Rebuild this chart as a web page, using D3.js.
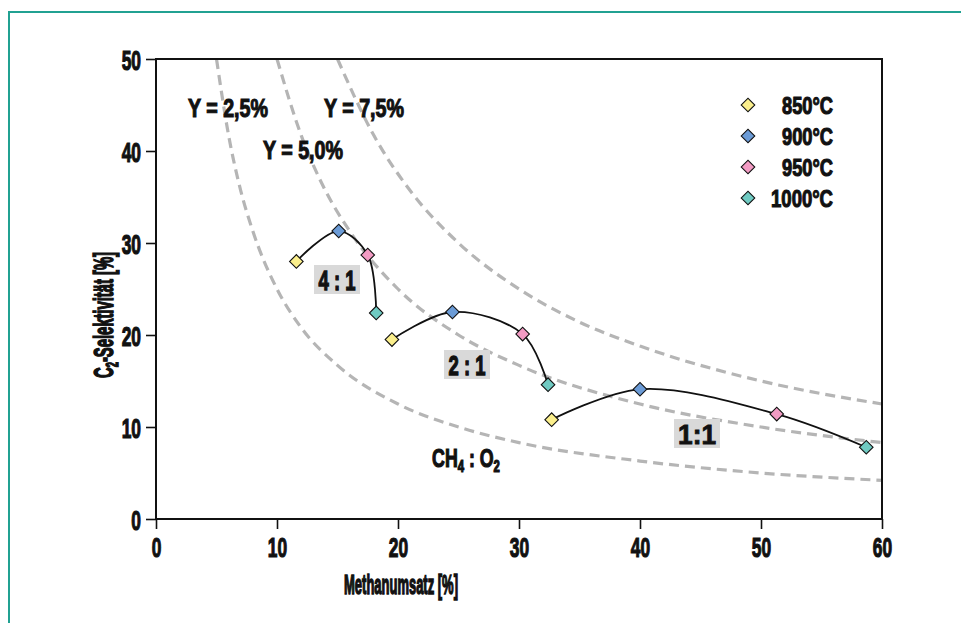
<!DOCTYPE html>
<html>
<head>
<meta charset="utf-8">
<script src="https://cdn.jsdelivr.net/npm/d3@7"></script>
<style>
  body { margin: 0; background: #fff; }
  text { font-family: "Liberation Sans", Arial, sans-serif; font-weight: bold; fill: #111; stroke: #111; stroke-width: 0.8px; }
</style>
</head>
<body>
<div id="chart"></div>
<script>
// temperatures (legend) and their marker colours
const temps = ["850°C", "900°C", "950°C", "1000°C"];
const tempColors = ["#fbef8c", "#6b9bd6", "#f29bc3", "#6fcac2"];

// CH4:O2 ratio series, points ordered 850, 900, 950, 1000 °C
const ratios = ["4 : 1", "2 : 1", "1:1"];
const conv41 = [11.6, 15.1, 17.5, 18.2];
const sel41 = [28.0, 31.3, 28.7, 22.4];
const conv21 = [19.5, 24.5, 30.3, 32.4];
const sel21 = [19.5, 22.5, 20.1, 14.6];
const conv11 = [32.7, 40.0, 51.3, 58.7];
const sel11 = [10.8, 14.1, 11.4, 7.8];

// iso-yield curves
const yieldLabels = ["Y = 2,5%", "Y = 5,0%", "Y = 7,5%"];
const y25x = [5, 6, 7, 8, 10, 12, 15, 20, 25, 30, 40, 50, 60];
const y25s = [50, 41.7, 35.7, 31.3, 25, 20.8, 16.7, 12.5, 10, 8.3, 6.3, 5, 4.2];
const y50x = [10, 12, 14, 16, 20, 25, 30, 40, 50, 60];
const y50s = [50, 41.7, 35.7, 31.3, 25, 20, 16.7, 12.5, 10, 8.3];
const y75x = [15, 18, 21, 25, 30, 35, 40, 50, 60];
const y75s = [50, 41.7, 35.7, 30, 25, 21.4, 18.8, 15, 12.5];

const xTicks = [0, 10, 20, 30, 40, 50, 60];
const yTicks = [0, 10, 20, 30, 40, 50];

const width = 961, height = 623;
const margin = {left: 156, right: 79, top: 59, bottom: 104};

const svg = d3.select("#chart").append("svg")
  .attr("width", width)
  .attr("height", height);

// condensed look: draw text, then squeeze it to the width seen in the picture
function label(x0, y0, size, anchor, w, build, rot) {
  const g = svg.append("g")
    .attr("transform", "translate(" + x0 + "," + y0 + ")" + (rot ? " rotate(" + rot + ")" : ""));
  const t = g.append("text")
    .attr("font-size", size)
    .attr("text-anchor", anchor);
  build(t);
  const s = w / t.node().getBBox().width;
  t.attr("transform", "scale(" + s + ",1)")
    .style("stroke-width", Math.min(1.5, 0.85 / s) + "px");
  return g;
}

// teal frame around the figure
svg.append("rect")
  .attr("x", 9).attr("y", 12)
  .attr("width", 1000).attr("height", 1000)
  .attr("fill", "none")
  .attr("stroke", "#21a192")
  .attr("stroke-width", 2);

const x = d3.scaleLinear().domain([0, 60]).range([margin.left, width - margin.right]);
const y = d3.scaleLinear().domain([0, 50]).range([height - margin.bottom, margin.top]);

// yield curves (dashed grey)
const yieldLine = d3.line()
  .x(d => x(d[0])).y(d => y(d[1]))
  .curve(d3.curveMonotoneX);

[[y25x, y25s], [y50x, y50s], [y75x, y75s]].forEach(([xs, ss]) => {
  svg.append("path")
    .datum(xs.map((v, i) => [v, ss[i]]))
    .attr("d", yieldLine)
    .attr("fill", "none")
    .attr("stroke", "#b5b5b5")
    .attr("stroke-width", 3.2)
    .attr("stroke-dasharray", "10,6");
});

// plot frame
svg.append("rect")
  .attr("x", x(0)).attr("y", y(50))
  .attr("width", x(60) - x(0)).attr("height", y(0) - y(50))
  .attr("fill", "none")
  .attr("stroke", "#111")
  .attr("stroke-width", 2);

// axes
const tickSx = 0.62;
const xAxis = svg.append("g")
  .attr("transform", "translate(0," + y(0) + ")")
  .call(d3.axisBottom(x).tickValues(xTicks).tickSize(10).tickFormat(d3.format("d")));
const yAxis = svg.append("g")
  .attr("transform", "translate(" + x(0) + ",0)")
  .call(d3.axisLeft(y).tickValues(yTicks).tickSize(10).tickFormat(d3.format("d")));

[xAxis, yAxis].forEach(a => {
  a.select(".domain").remove();
  a.selectAll("line").attr("stroke", "#111").attr("stroke-width", 1.6);
  a.selectAll("text").attr("font-size", 28).attr("fill", "#111")
    .attr("font-family", null)
    .style("stroke-width", "1.2px")
    .attr("transform", "scale(" + tickSx + ",1)");
});
xAxis.selectAll("text").attr("y", 38).attr("dy", 0);
yAxis.selectAll("text").attr("x", -15 / tickSx).attr("dy", "0.36em");

// axis titles
label(401, 594, 27, "middle", 114, t => t.text("Methanumsatz [%]"));

label(113, 315, 27, "middle", 126, t => {
  t.append("tspan").text("C");
  t.append("tspan").attr("font-size", 17).attr("dy", 5).text("2");
  t.append("tspan").attr("dy", -5).text("-Selektivität [%]");
}, -90);

// yield labels
const yieldPos = [[228, 117], [303, 159], [364, 117]];
yieldLabels.forEach((s, i) => {
  label(yieldPos[i][0], yieldPos[i][1], 26, "middle", 80, t => t.text(s));
});

// CH4 : O2 label
label(466, 467, 25, "middle", 68, t => {
  t.append("tspan").text("CH");
  t.append("tspan").attr("font-size", 16).attr("dy", 5).text("4");
  t.append("tspan").attr("dy", -5).text(" : O");
  t.append("tspan").attr("font-size", 16).attr("dy", 5).text("2");
});

// data series
const series = [[conv41, sel41], [conv21, sel21], [conv11, sel11]];
const dataLine = d3.line()
  .x(d => x(d[0])).y(d => y(d[1]))
  .curve(d3.curveCatmullRom.alpha(0.5));

const diamond = d3.symbol().type(d3.symbolSquare).size(92);

series.forEach(([xs, ss]) => {
  const pts = xs.map((v, i) => [v, ss[i]]);
  svg.append("path")
    .datum(pts)
    .attr("d", dataLine)
    .attr("fill", "none")
    .attr("stroke", "#111")
    .attr("stroke-width", 1.8);
  svg.selectAll(null)
    .data(pts)
    .enter().append("path")
    .attr("d", diamond)
    .attr("transform", d => "translate(" + x(d[0]) + "," + y(d[1]) + ") rotate(45)")
    .attr("fill", (d, i) => tempColors[i])
    .attr("stroke", "#111")
    .attr("stroke-width", 1.1);
});

// ratio labels in grey boxes
const ratioBox = [[314, 265], [444, 350], [674, 419]];
const ratioW = [37, 37, 38];
ratios.forEach((s, i) => {
  const [bx, by] = ratioBox[i];
  svg.append("rect")
    .attr("x", bx).attr("y", by)
    .attr("width", 46).attr("height", 29)
    .attr("fill", "#d9d9d9");
  label(bx + 23, by + 25, 28, "middle", ratioW[i], t => t.text(s));
});

// legend
temps.forEach((s, i) => {
  const ly = 105 + i * 31;
  svg.append("path")
    .attr("d", diamond)
    .attr("transform", "translate(748," + ly + ") rotate(45)")
    .attr("fill", tempColors[i])
    .attr("stroke", "#111")
    .attr("stroke-width", 1.1);
  label(833, ly + 9, 24, "end", s.length === 6 ? 62 : 51, t => t.text(s));
});
</script>
</body>
</html>
